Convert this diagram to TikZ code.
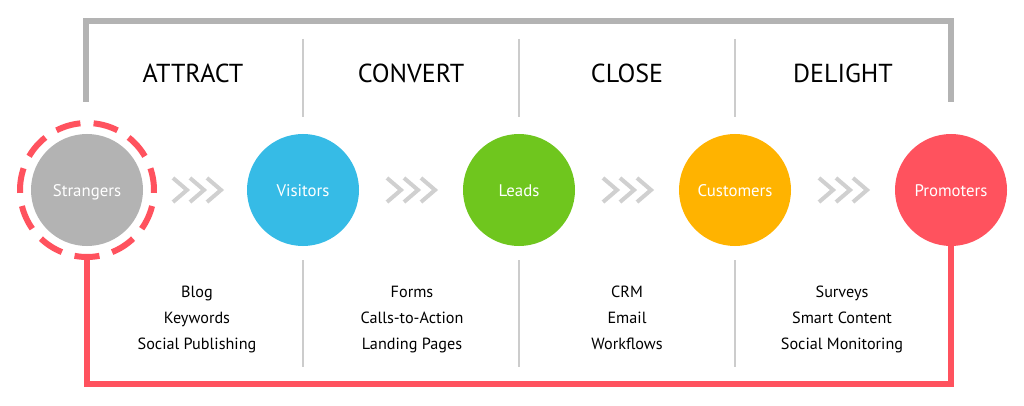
\documentclass[tikz,border=0pt]{standalone}
\usepackage{fontspec}
\setmainfont{PT Sans}
\definecolor{cgray}{HTML}{B3B3B3}
\definecolor{cblue}{HTML}{36BBE6}
\definecolor{cgreen}{HTML}{6FC61E}
\definecolor{corange}{HTML}{FFB300}
\definecolor{cred}{HTML}{FF525E}
\definecolor{chevgray}{HTML}{D0D0D0}
\definecolor{sepgray}{HTML}{CCCCCC}
\definecolor{framegray}{HTML}{B3B3B3}
\begin{document}
\begin{tikzpicture}[x=1pt,y=-1pt,
  stage/.style={circle, minimum size=112pt, inner sep=0pt, text=white, font=\fontsize{16.8}{18}\selectfont, text height=12pt, text depth=0pt},
  heading/.style={font=\fontsize{26}{28}\selectfont, text=black, anchor=base},
  tools/.style={font=\fontsize{16.2}{26}\selectfont, text=black, anchor=base},
  chev/.style={draw=chevgray, line width=4pt},
  sepline/.style={draw=sepgray, line width=1.2pt},
  redline/.style={draw=cred, line width=6pt},
  grayframe/.style={draw=framegray, line width=6pt}]
\useasboundingbox (0,0) rectangle (1024,406);
\fill[white] (0,0) rectangle (1024,406);
% frame
\draw[grayframe] (86,102) -- (86,21) -- (951,21) -- (951,102);
% stage circles
\node[stage, fill=cgray] (str) at (87,190) {Strangers};
\node[stage, fill=cblue] (vis) at (303,190) {Visitors};
\node[stage, fill=cgreen] (lea) at (519,190) {Leads};
\node[stage, fill=corange] (cus) at (735,190) {Customers};
\node[stage, fill=cred] (pro) at (951,190) {Promoters};
% dashed ring
\foreach \i in {0,...,10}{
  \pgfmathsetmacro\a{270+\i*32.7273}
  \draw[redline] ([shift={(\a-10.7:67pt)}]str.center) arc[start angle=\a-10.7, end angle=\a+10.7, radius=67pt];
}
% red loop
\coordinate (sb) at (87,257);
\coordinate (rc) at (951,384);
\draw[redline] (pro.south) -- (rc) -| (sb);
% separators
\foreach \sx in {303,519,735}{
  \draw[sepline] (\sx,39) -- (\sx,117);
  \draw[sepline] (\sx,260) -- (\sx,367);
}
% headings
\node[heading] (h1) at (193,83) {ATTRACT};
\node[heading] (h2) at (411,83) {CONVERT};
\node[heading] (h3) at (627,83) {CLOSE};
\node[heading] (h4) at (843,83) {DELIGHT};
% tools
\node[tools] (t1a) at (197,297.5) {Blog};
\node[tools] (t1b) at (197,323) {Keywords};
\node[tools] (t1c) at (197,349) {Social Publishing};
\node[tools] (t2a) at (412,297.5) {Forms};
\node[tools] (t2b) at (412,323) {Calls-to-Action};
\node[tools] (t2c) at (412,349) {Landing Pages};
\node[tools] (t3a) at (627,297.5) {CRM};
\node[tools] (t3b) at (627,323) {Email};
\node[tools] (t3c) at (627,349) {Workflows};
\node[tools] (t4a) at (842,297.5) {Surveys};
\node[tools] (t4b) at (842,323) {Smart Content};
\node[tools] (t4c) at (842,349) {Social Monitoring};
% chevrons
\foreach \cx in {197,411,627,843}{
  \foreach \d in {-17,0,17}{
    \draw[chev] (\cx+\d-7,178) -- (\cx+\d+7,190) -- (\cx+\d-7,202);
  }
}
\end{tikzpicture}
\end{document}
